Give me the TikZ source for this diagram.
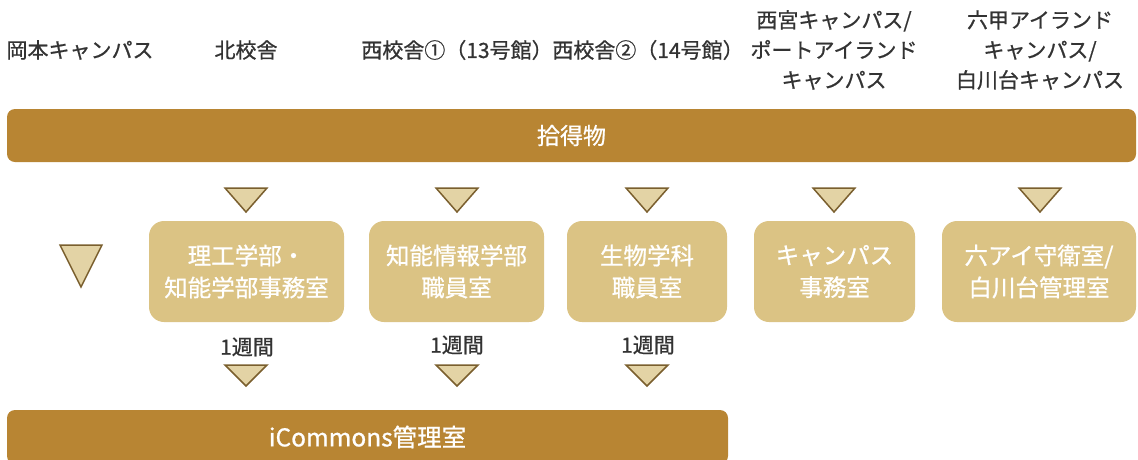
\documentclass[tikz,border=0pt]{standalone}
\usepackage{fontspec}
\setmainfont{Noto Sans CJK JP}[FakeBold=0.8]
\definecolor{barGold}{HTML}{B88533}
\definecolor{boxGold}{HTML}{DBC384}
\definecolor{triFill}{HTML}{E3D3A5}
\definecolor{triLine}{HTML}{7A5F2E}
\definecolor{textGrey}{HTML}{333333}

\begin{document}
\begin{tikzpicture}[x=1pt,y=-1pt]
    \tikzset{head/.style = {text=textGrey, font=\fontsize{21}{30}\selectfont, align=center, inner sep=0pt}}
    \tikzset{bar/.style = {fill=barGold, rounded corners=8pt, text=white, font=\fontsize{23}{30}\selectfont, inner sep=0pt}}
    \tikzset{office/.style = {fill=boxGold, rounded corners=15pt, text=white, font=\fontsize{23.5}{32}\selectfont, align=center, minimum height=101pt, inner sep=0pt}}
    \tikzset{period/.style = {text=textGrey, font=\fontsize{21}{24}\selectfont, inner sep=0pt}}
    \tikzset{pics/downtri/.style = {code = {\filldraw[fill=triFill, draw=triLine, line width=1.5pt] (-21,-#1) -- (21,-#1) -- (0,#1) -- cycle;}}}

    \useasboundingbox (0,0) rectangle (1138,459);

    % campuses
    \node[head] (okamoto) at (80,50) {岡本キャンパス};
    \node[head] (kita) at (246,50) {北校舎};
    \node[head] (nishi1) at (457,50) {西校舎①（13号館）};
    \node[head] (nishi2) at (648,50) {西校舎②（14号館）};
    \node[head] (nishinomiya) at (834,50) {西宮キャンパス/\\ポートアイランド\\キャンパス};
    \node[head] (rokko) at (1040,50) {六甲アイランド\\キャンパス/\\白川台キャンパス};

    % found items
    \node[bar, minimum width=1129pt, minimum height=53pt] (found) at (571.5,135.5) {拾得物};

    % offices
    \node[office, minimum width=195pt] (riko) at (246.5,271.5) {理工学部・\\知能学部事務室};
    \node[office, minimum width=175pt] (chino) at (456.5,271.5) {知能情報学部\\職員室};
    \node[office, minimum width=160pt] (seibutsu) at (647,271.5) {生物学科\\職員室};
    \node[office, minimum width=161pt] (campus) at (834.5,271.5) {キャンパス\\事務室};
    \node[office, minimum width=194pt] (rokuai) at (1039,271.5) {六アイ守衛室/\\白川台管理室};

    % triangles
    \foreach \tx in {246,457,647,834,1040}
        \pic at (\tx,200) {downtri=12};
    \pic at (81,266) {downtri=21};
    \foreach \tx in {246,457,647}
        \pic at (\tx,375.5) {downtri=10.5};

    % periods
    \node[period] (p1) at (247,347) {1週間};
    \node[period] (p2) at (457,345) {1週間};
    \node[period] (p3) at (648,345) {1週間};

    % icommons
    \begin{scope}
        \clip (0,0) rectangle (1138,459);
        \node[bar, minimum width=721pt, minimum height=54pt, font=\fontsize{24.5}{30}\selectfont] (commons) at (367.5,437) {iCommons管理室};
    \end{scope}
\end{tikzpicture}
\end{document}
